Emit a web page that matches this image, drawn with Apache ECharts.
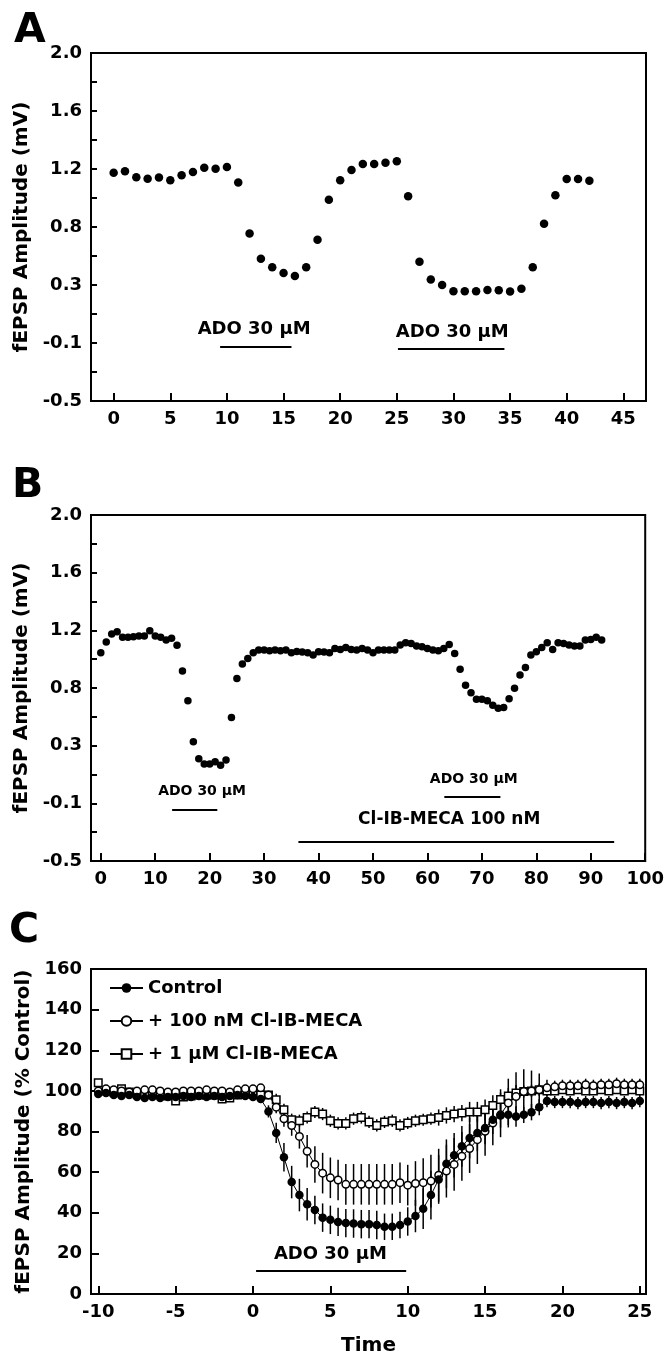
<!DOCTYPE html>
<html>
<head>
<meta charset="utf-8">
<script src="https://cdn.jsdelivr.net/npm/echarts@6/dist/echarts.min.js"></script>
<style>
html,body{margin:0;padding:0;background:#fff}
#main{width:667px;height:1360px}
</style>
</head>
<body>
<div id="main"></div>
<script>
// panel A: single slice, two ADO applications
var aTime = [0,1,2,3,4,5,6,7,8,9,10,11,12,13,14,15,16,17,18,19,20,21,22,23,24,25,26,27,28,29,30,31,32,33,34,35,36,37,38,39,40,41,42];
var aAmp = [1.140,1.150,1.107,1.097,1.105,1.085,1.121,1.145,1.176,1.169,1.181,1.069,0.703,0.522,0.460,0.419,0.398,0.460,0.658,0.945,
            1.085,1.159,1.202,1.202,1.212,1.222,0.971,0.500,0.372,0.333,0.288,0.288,0.288,0.298,0.295,0.286,0.307,0.460,0.773,0.978,
            1.095,1.095,1.083];

// panel B: ADO before and during Cl-IB-MECA
var bTime = [0,1,2,3,4,5,6,7,8,9,10,11,12,13,14,15,16,17,18,19,20,21,22,23,24,25,26,27,28,29,30,31,32,33,34,35,36,37,38,39,
             40,41,42,43,44,45,46,47,48,49,50,51,52,53,54,55,56,57,58,59,60,61,62,63,64,65,66,67,68,69,70,71,72,73,74,75,76,77,78,79,
             80,81,82,83,84,85,86,87,88,89,90,91,92];
var bAmp = [1.005,1.082,1.140,1.157,1.116,1.116,1.121,1.126,1.126,1.164,1.126,1.116,1.097,1.109,1.058,0.872,0.658,0.362,0.239,0.200,
            0.200,0.217,0.191,0.229,0.537,0.819,0.923,0.964,1.005,1.024,1.024,1.019,1.024,1.019,1.024,1.005,1.014,1.010,1.005,0.988,
            1.012,1.010,1.005,1.036,1.029,1.043,1.029,1.024,1.036,1.024,1.005,1.024,1.024,1.024,1.024,1.060,1.077,1.072,1.053,1.048,
            1.036,1.024,1.019,1.036,1.065,1.000,0.885,0.769,0.716,0.668,0.668,0.658,0.625,0.603,0.610,0.673,0.748,0.844,0.899,0.988,
            1.012,1.043,1.077,1.029,1.077,1.072,1.060,1.053,1.053,1.097,1.101,1.116,1.097];

// panel C: averaged time courses (% control) with SEM
var cTime = [-10,-9.5,-9,-8.5,-8,-7.5,-7,-6.5,-6,-5.5,-5,-4.5,-4,-3.5,-3,-2.5,-2,-1.5,-1,-0.5,0,
             0.5,1,1.5,2,2.5,3,3.5,4,4.5,5,5.5,6,6.5,7,7.5,8,8.5,9,9.5,10,
             10.5,11,11.5,12,12.5,13,13.5,14,14.5,15,15.5,16,16.5,17,17.5,18,18.5,19,19.5,20,
             20.5,21,21.5,22,22.5,23,23.5,24,24.5,25];
var ctrlMean = [98.5,99,98,97.5,98,97,96.5,97,96.5,97,97,97.5,97,97.5,97,97.5,97,97.5,98,97.5,97,
                96,89.9,79.3,67.3,55.1,48.7,44.2,41.4,37.6,36.5,35.5,34.9,34.7,34.4,34.4,34.0,33.1,33.1,34.0,35.7,
                38.4,42.0,48.7,56.4,64.1,68.3,72.7,76.8,79.3,81.7,85.8,87.9,88.2,87.4,88.2,89.5,92,95,94.5,94.5,
                94.5,94,94.5,94.5,94,94.5,94,94.5,94,95];
var ctrlErr = [1.5,1.5,1.5,1.5,1.5,1.5,1.5,1.5,1.5,1.5,1.5,1.5,1.5,1.5,1.5,1.5,1.5,1.5,1.5,1.5,1.5,
               2,3,5,7,8,8,8,7,7,7,7,7,7,7,7,7,6.5,6.5,6.5,7,
               8,10,12,12,12,11,10,10,9,8,7,6,5,5,4,4,4,3,3,3,
               3,3,3,3,3,3,3,3,3,3];
var nm100Mean = [100,101,100.5,100,99.5,100,100.5,100.5,100,99.5,99.5,100,100,100,100.5,100,100,99.5,100.5,101,101,
                 101.5,98,92,86.3,82.9,77.6,70.3,63.8,59.5,57.2,56.1,54,54,54,54,54,54,54,54.8,53.6,
                 54.4,54.8,55.6,58.5,60.5,63.8,67.8,71.6,76,80.1,84.2,88.2,94,97.2,99.7,100,100.5,101.5,102,102.5,
                 102.5,102.5,103,102.5,103,103,103.5,103,103,103];
var nm100Err = [1.5,1.5,1.5,1.5,1.5,1.5,1.5,1.5,1.5,1.5,1.5,1.5,1.5,1.5,1.5,1.5,1.5,1.5,1.5,1.5,1.5,
                1.5,2,3,4,5,6,8,9,10,10,10,10,10,10,10,10,10,10,10,10,
                11,12,13,13,13,13,12,12,12,12,11,11,12,12,11,10,8,4,3,3,
                3,3,3,3,3,3,3,3,3,3];
var um1Mean = [104,100,99.5,101,99.5,98.5,98.5,99,98.5,97.5,95,97,97.5,98,98,98,96,96.5,98,98.5,99,
               98,98,95.6,90.7,85.8,85.3,86.9,89.6,88.6,85.3,84,84,86.3,86.9,84.7,83,84.7,85.3,83,84.2,
               85.3,85.8,86.3,86.9,87.9,88.6,89.1,89.6,89.6,90.7,92.8,95.8,97.5,98.9,99.7,100,100.5,100,100,100.5,
               100,100.5,100,100,100.5,100,100.5,100,100.5,100];
var um1Err = [1.5,1.5,1.5,1.5,1.5,1.5,1.5,1.5,1.5,1.5,1.5,1.5,1.5,1.5,1.5,1.5,1.5,1.5,1.5,1.5,1.5,
              2,2,3,3,3,3,3,3,3,3,3,3,3,3,3,3,3,3,3,3,
              3,3,3,4,4,4,4,5,5,5,5,5,4,4,3,3,3,2,2,2,
              2,2,2,2,2,2,2,2,2,2];

// tick labels
var abYVals = [-0.5, -1/12, 1/3, 0.75, 7/6, 19/12, 2.0];
var abYLabels = ['-0.5','-0.1','0.3','0.8','1.2','1.6','2.0'];
var aXTicks = [0,5,10,15,20,25,30,35,40,45];
var bXTicks = [0,10,20,30,40,50,60,70,80,90,100];
var cXTicks = [-10,-5,0,5,10,15,20,25];
var seriesNames = ['Control', '+ 100 nM Cl-IB-MECA', '+ 1 \u00b5M Cl-IB-MECA'];

var FONT = '"DejaVu Sans", Arial, sans-serif';
var chart = echarts.init(document.getElementById('main'));

function zip(xs, ys) {
    return xs.map(function (x, i) { return [x, ys[i]]; });
}
function errRows(mean, err) {
    return cTime.map(function (t, i) { return [t, mean[i] - err[i], mean[i] + err[i]]; });
}
// y ticks of A/B: labelled ones plus a minor tick half way
var abYTicks = [];
abYVals.forEach(function (v, i) {
    abYTicks.push(v);
    if (i < abYVals.length - 1) abYTicks.push((v + abYVals[i + 1]) / 2);
});
function abLabel(v) {
    var best = 0;
    for (var i = 1; i < abYVals.length; i++) {
        if (Math.abs(abYVals[i] - v) < Math.abs(abYVals[best] - v)) best = i;
    }
    return abYLabels[best];
}

var labelStyle = {color: '#000', fontFamily: FONT, fontWeight: 'bold', fontSize: 18};
var nameStyle = {color: '#000', fontFamily: FONT, fontWeight: 'bold', fontSize: 20};
var lineBlack = {color: '#000', width: 2};

function xAxisOf(idx, min, max, ticks, extra) {
    var ax = {
        gridIndex: idx, type: 'value', min: min, max: max,
        splitLine: {show: false},
        axisLine: {onZero: false, lineStyle: lineBlack},
        axisTick: {inside: true, length: 8, customValues: ticks, lineStyle: lineBlack},
        axisLabel: Object.assign({customValues: ticks, margin: 9}, labelStyle)
    };
    return Object.assign(ax, extra || {});
}
function abYAxis(idx) {
    return {
        gridIndex: idx, type: 'value', min: -0.5, max: 2.0,
        name: 'fEPSP Amplitude (mV)', nameLocation: 'middle', nameGap: 56, nameTextStyle: nameStyle,
        splitLine: {show: false},
        axisLine: {onZero: false, lineStyle: lineBlack},
        axisTick: {inside: true, length: 6, customValues: abYTicks, lineStyle: lineBlack},
        axisLabel: Object.assign({customValues: abYVals, margin: 9, formatter: abLabel}, labelStyle)
    };
}

function textMark(name, coord, size) {
    return {
        name: name, coord: coord,
        label: {show: true, position: 'inside', formatter: name, color: '#000',
                fontFamily: FONT, fontWeight: 'bold', fontSize: size}
    };
}
function barMark(x0, x1, y) {
    return [{coord: [x0, y]}, {coord: [x1, y]}];
}
var markLineBase = {symbol: ['none', 'none'], silent: true, label: {show: false},
                    lineStyle: {color: '#000', width: 2, type: 'solid'}, emphasis: {disabled: true}};
var markPointBase = {symbol: 'rect', symbolSize: 1, silent: true, itemStyle: {color: 'rgba(0,0,0,0)'}};

function errorItem(params, api) {
    var x = api.value(0);
    var lo = api.coord([x, api.value(1)]);
    var hi = api.coord([x, api.value(2)]);
    return {
        type: 'line',
        shape: {x1: lo[0], y1: lo[1], x2: hi[0], y2: hi[1]},
        style: {stroke: '#000', lineWidth: 1.5}
    };
}
function errorSeries(mean, err) {
    return {
        type: 'custom', xAxisIndex: 2, yAxisIndex: 2, z: 1, silent: true,
        renderItem: errorItem, encode: {x: 0, y: [1, 2]}, data: errRows(mean, err)
    };
}

var option = {
    animation: false,
    backgroundColor: '#fff',
    grid: [
        {left: 91, top: 53, width: 555, height: 348, show: true, borderColor: '#000', borderWidth: 2},
        {left: 91, top: 515, width: 555, height: 346, show: true, borderColor: '#000', borderWidth: 2},
        {left: 91, top: 969, width: 555, height: 325, show: true, borderColor: '#000', borderWidth: 2}
    ],
    xAxis: [
        xAxisOf(0, -2, 47, aXTicks),
        xAxisOf(1, -1.8, 100, bXTicks),
        xAxisOf(2, -10.47, 25.4, cXTicks, {name: 'Time', nameLocation: 'middle', nameGap: 42, nameTextStyle: nameStyle})
    ],
    yAxis: [
        abYAxis(0),
        abYAxis(1),
        {
            gridIndex: 2, type: 'value', min: 0, max: 160, interval: 20,
            name: 'fEPSP Amplitude (% Control)', nameLocation: 'middle', nameGap: 56, nameTextStyle: nameStyle,
            splitLine: {show: false},
            axisLine: {onZero: false, lineStyle: lineBlack},
            axisTick: {inside: true, length: 8, lineStyle: lineBlack},
            axisLabel: Object.assign({margin: 9}, labelStyle)
        }
    ],
    legend: {
        data: seriesNames,
        orient: 'vertical', left: 104, top: 973,
        itemWidth: 33, itemHeight: 12, itemGap: 13,
        selectedMode: false,
        textStyle: {color: '#000', fontFamily: FONT, fontWeight: 'bold', fontSize: 18, lineHeight: 20}
    },
    graphic: [
        {type: 'text', left: 14, top: 11, style: {text: 'A', font: 'bold 41px "DejaVu Sans"', fill: '#000'}},
        {type: 'text', left: 12, top: 466, style: {text: 'B', font: 'bold 41px "DejaVu Sans"', fill: '#000'}},
        {type: 'text', left: 9, top: 911, style: {text: 'C', font: 'bold 41px "DejaVu Sans"', fill: '#000'}}
    ],
    series: [
        {
            type: 'scatter', xAxisIndex: 0, yAxisIndex: 0,
            data: zip(aTime, aAmp), symbolSize: 8.5, itemStyle: {color: '#000', opacity: 1},
            markLine: Object.assign({data: [barMark(9.4, 15.7, -0.112), barMark(25.1, 34.5, -0.124)]}, markLineBase),
            markPoint: Object.assign({data: [textMark('ADO 30 \u00b5M', [12.4, 0.017], 18),
                                             textMark('ADO 30 \u00b5M', [29.9, -0.004], 18)]}, markPointBase)
        },
        {
            type: 'scatter', xAxisIndex: 1, yAxisIndex: 1,
            data: zip(bTime, bAmp), symbolSize: 7.5, itemStyle: {color: '#000', opacity: 1},
            markLine: Object.assign({data: [barMark(13.1, 21.4, -0.127), barMark(63.1, 73.4, -0.035),
                                            barMark(36.3, 94.3, -0.36)]}, markLineBase),
            markPoint: Object.assign({data: [textMark('ADO 30 \u00b5M', [18.6, 0.006], 14),
                                             textMark('ADO 30 \u00b5M', [68.5, 0.092], 14),
                                             textMark('Cl-IB-MECA 100 nM', [64.0, -0.204], 17)]}, markPointBase)
        },
        errorSeries(um1Mean, um1Err),
        errorSeries(nm100Mean, nm100Err),
        errorSeries(ctrlMean, ctrlErr),
        {
            name: seriesNames[2], type: 'line', xAxisIndex: 2, yAxisIndex: 2, z: 3,
            data: zip(cTime, um1Mean), symbol: 'rect', symbolSize: 7.5, showAllSymbol: true,
            lineStyle: {color: '#000', width: 1},
            itemStyle: {color: '#fff', borderColor: '#000', borderWidth: 1.5}
        },
        {
            name: seriesNames[1], type: 'line', xAxisIndex: 2, yAxisIndex: 2, z: 4,
            data: zip(cTime, nm100Mean), symbol: 'circle', symbolSize: 7.5, showAllSymbol: true,
            lineStyle: {color: '#000', width: 1},
            itemStyle: {color: '#fff', borderColor: '#000', borderWidth: 1.5}
        },
        {
            name: seriesNames[0], type: 'line', xAxisIndex: 2, yAxisIndex: 2, z: 5,
            data: zip(cTime, ctrlMean), symbol: 'circle', symbolSize: 8.5, showAllSymbol: true,
            lineStyle: {color: '#000', width: 1},
            itemStyle: {color: '#000', borderColor: '#000', borderWidth: 0},
            markLine: Object.assign({data: [barMark(0.2, 9.9, 11.6)]}, markLineBase),
            markPoint: Object.assign({data: [textMark('ADO 30 \u00b5M', [5.0, 19.3], 18)]}, markPointBase)
        }
    ]
};
chart.setOption(option);
</script>
</body>
</html>
